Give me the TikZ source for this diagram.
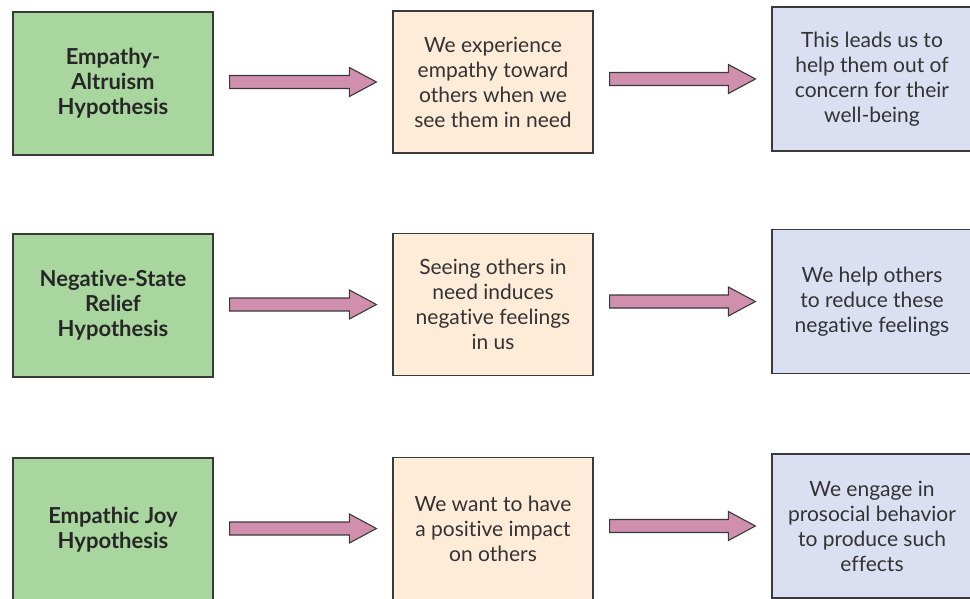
\documentclass[tikz,border=0pt]{standalone}
\usepackage{fontspec}
\setmainfont{Lato}[Ligatures=NoCommon]
\newfontfamily\bodyfont{Lato}[Ligatures=NoCommon]
\usepackage{xcolor}
\usetikzlibrary{calc,positioning}

\definecolor{hypgreen}{RGB}{169,214,158}
\definecolor{stepbeige}{RGB}{254,236,216}
\definecolor{resblue}{RGB}{218,224,241}
\definecolor{arrowpink}{RGB}{209,143,174}
\definecolor{boxline}{RGB}{58,58,58}

% block arrow from the east side of #1 to the west side of #2
\newcommand{\blockarrow}[2]{%
  \draw[flowarrow] let \p1=($(#1.east)+(16,0)$), \p2=($(#2.west)+(-16,0)$) in
    (\x1,\y2-6.5pt) -- (\x2-27pt,\y2-6.5pt) -- (\x2-27pt,\y2-14.5pt) -- (\x2,\y2)
    -- (\x2-27pt,\y2+14.5pt) -- (\x2-27pt,\y2+6.5pt) -- (\x1,\y2+6.5pt) -- cycle;}

\begin{document}
\begin{tikzpicture}[x=1pt,y=-1pt,
  box/.style={draw=boxline, line width=1.2pt, minimum width=200pt, align=center, inner sep=0pt},
  hyp/.style={box, fill=hypgreen, minimum height=143pt, text=black!85,
    font=\bfseries\fontsize{22pt}{25pt}\selectfont},
  cause/.style={box, fill=stepbeige, minimum height=142pt, text=black!80,
    font=\bodyfont\fontsize{21pt}{25pt}\selectfont},
  result/.style={box, fill=resblue, minimum height=144pt, text=black!80,
    font=\bodyfont\fontsize{21pt}{25pt}\selectfont},
  flowarrow/.style={fill=arrowpink, draw=boxline, line width=1.1pt, line join=miter}]

\useasboundingbox (0,0) rectangle (970,598);
\clip (0,0) rectangle (970,598);

% Empathy-altruism
\node[hyp] (hypA) at (113,83.5) {Empathy-\\Altruism\\Hypothesis};
\node[cause] (causeA) at (493,82) {We experience\\empathy toward\\others when we\\see them in need};
\node[result] (resA) at (872,79) {This leads us to\\help them out of\\concern for their\\well-being};

% Negative-state relief
\node[hyp] (hypB) at (113,305.5) {Negative-State\\Relief\\Hypothesis};
\node[cause] (causeB) at (493,304.5) {Seeing others in\\need induces\\negative feelings\\in us};
\node[result] (resB) at (872,301.5) {We help others\\to reduce these\\negative feelings};

% Empathic joy
\node[hyp] (hypC) at (113,529.5) {Empathic Joy\\Hypothesis};
\node[cause] (causeC) at (493,528.5) {We want to have\\a positive impact\\on others};
\node[result] (resC) at (872,526) {We engage in\\prosocial behavior\\to produce such\\effects};

\foreach \r in {A,B,C} {
  \blockarrow{hyp\r}{cause\r}
  \blockarrow{cause\r}{res\r}
}
\end{tikzpicture}
\end{document}
